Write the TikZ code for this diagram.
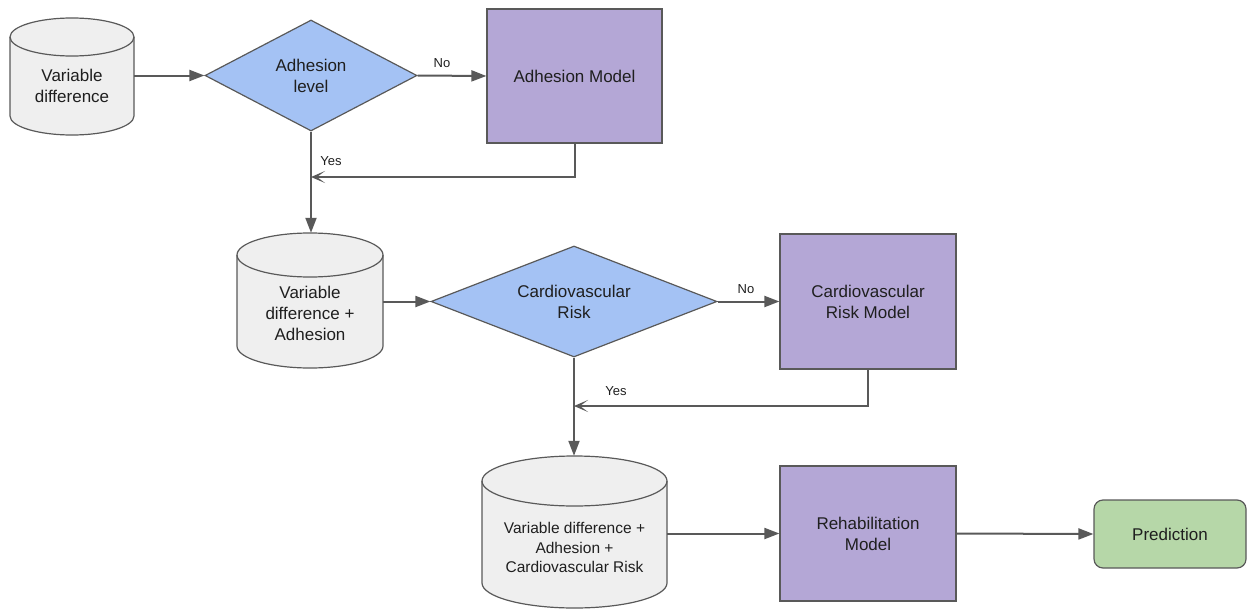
\documentclass[tikz,border=0pt]{standalone}
\usepackage{fontspec}
\setmainfont{Liberation Sans}
\usetikzlibrary{shapes.geometric,arrows.meta}
\definecolor{lineg}{HTML}{595959}
\definecolor{drumc}{HTML}{EFEFEF}
\definecolor{decc}{HTML}{A4C2F4}
\definecolor{modc}{HTML}{B4A7D6}
\definecolor{predc}{HTML}{B6D7A8}
\definecolor{txt}{HTML}{1F1F1F}
\begin{document}
\begin{tikzpicture}[x=1pt,y=-1pt,
  every node/.style={text=txt},
  maintext/.style={font=\fontsize{17}{21}\selectfont, align=center},
  smalltext/.style={font=\fontsize{15.5}{19.5}\selectfont, align=center},
  lbl/.style={font=\fontsize{13}{15}\selectfont},
  border/.style={draw=lineg, line width=1.2pt},
  drumshape/.style={border, fill=drumc},
  decision/.style={diamond, border, fill=decc, inner sep=0pt, maintext},
  model/.style={rectangle, border, fill=modc, inner sep=0pt, maintext},
  outbox/.style={rectangle, rounded corners=9pt, border, fill=predc, inner sep=0pt, maintext},
  holder/.style={rectangle, inner sep=0pt},
  flow/.style={draw=lineg, line width=2pt, -{Triangle[length=15pt,width=11pt]}},
  merge/.style={draw=lineg, line width=2pt, -{Stealth[length=14pt,width=12pt,inset=8pt]}},
  plain/.style={draw=lineg, line width=2pt}
]
\useasboundingbox (0,0) rectangle (1247,610);

% ---- cylinders (drawn directly) ----
% cylinder 1: L10 R134 T18 B135 ry19
\path[drumshape] (10,37) -- (10,116) arc[start angle=180,end angle=360,x radius=62pt,y radius=19pt]
  -- (134,37) arc[start angle=0,end angle=180,x radius=62pt,y radius=19pt] -- cycle;
\draw[border] (10,37) arc[start angle=180,end angle=360,x radius=62pt,y radius=19pt];
\node[holder, minimum width=124pt, minimum height=117pt] (c1) at (72,76.5) {};
\node[maintext] (t1) at (72,86) {Variable\\difference};

% cylinder 2: L237 R383 T233 B368 ry22
\path[drumshape] (237,255) -- (237,346) arc[start angle=180,end angle=360,x radius=73pt,y radius=22pt]
  -- (383,255) arc[start angle=0,end angle=180,x radius=73pt,y radius=22pt] -- cycle;
\draw[border] (237,255) arc[start angle=180,end angle=360,x radius=73pt,y radius=22pt];
\node[holder, minimum width=146pt, minimum height=135pt] (c2) at (310,300.5) {};
\node[maintext] (t2) at (310,313.5) {Variable\\difference +\\Adhesion};

% cylinder 3: L482 R667 T456 B608 ry25
\path[drumshape] (482,481) -- (482,583) arc[start angle=180,end angle=360,x radius=92.5pt,y radius=25pt]
  -- (667,481) arc[start angle=0,end angle=180,x radius=92.5pt,y radius=25pt] -- cycle;
\draw[border] (482,481) arc[start angle=180,end angle=360,x radius=92.5pt,y radius=25pt];
\node[holder, minimum width=185pt, minimum height=152pt] (c3) at (574.5,532) {};
\node[smalltext] (t3) at (574.5,547.5) {Variable difference +\\Adhesion +\\Cardiovascular Risk};

% ---- decisions ----
\node[decision, minimum width=212pt, minimum height=111pt, aspect=1.91] (d1) at (311,75.5) {Adhesion\\level};
\node[decision, minimum width=286pt, minimum height=111pt, aspect=2.58] (d2) at (574,301.5) {Cardiovascular\\Risk};

% ---- models ----
\node[model, minimum width=175pt, minimum height=134pt] (am) at (574.5,76) {Adhesion Model};
\node[model, minimum width=176pt, minimum height=135pt] (crm) at (868,301.5) {Cardiovascular\\Risk Model};
\node[model, minimum width=176pt, minimum height=135pt] (rm) at (868,533.5) {Rehabilitation\\Model};
\node[outbox, minimum width=152pt, minimum height=68pt] (pred) at (1170,534) {Prediction};

% ---- junction points ----
\coordinate (j1) at (311,177);
\coordinate (j2) at (574,406);

% ---- connectors ----
\draw[flow] (c1.east |- d1.west) -- (d1.west);
\draw[flow] (d1.east) -- (am.west);
\node[lbl] (no1) at (442,63) {No};
\draw[merge] (am.south) |- (j1);
\draw[flow] (d1.south) -- (d1.south |- c2.north);
\node[lbl] (yes1) at (331,161) {Yes};

\draw[flow] (c2.east |- d2.west) -- (d2.west);
\draw[flow] (d2.east) -- (crm.west);
\node[lbl] (no2) at (746,289) {No};
\draw[merge] (crm.south) |- (j2);
\draw[flow] (d2.south) -- (d2.south |- c3.north);
\node[lbl] (yes2) at (616,391) {Yes};

\draw[flow] (c3.east |- rm.west) -- (rm.west);
\draw[flow] (rm.east) -- (pred.west);
\end{tikzpicture}
\end{document}
